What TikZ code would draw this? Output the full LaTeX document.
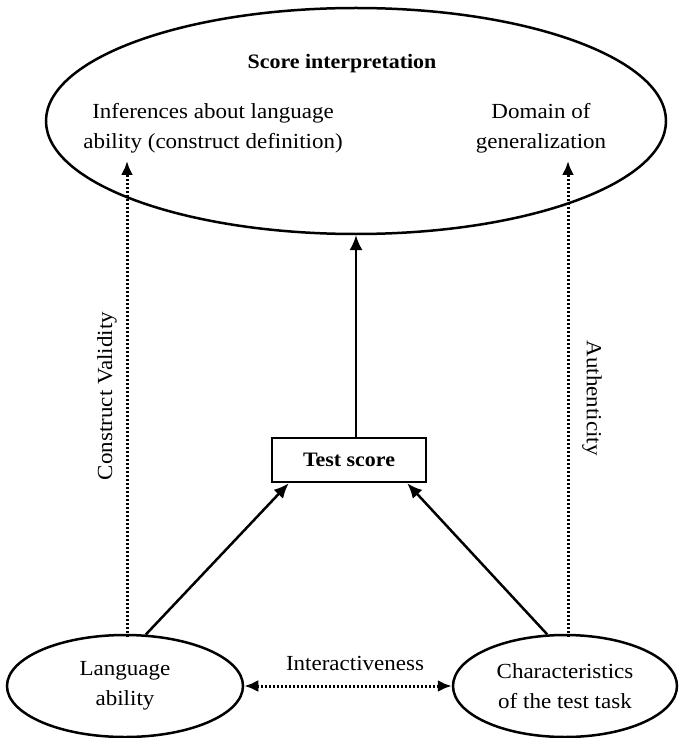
\documentclass[tikz,border=0pt]{standalone}
\usepackage{fontspec}
\setmainfont{Liberation Serif}[FakeStretch=1.07]
\usetikzlibrary{shapes.geometric,arrows.meta}
\begin{document}
\begin{tikzpicture}[x=1pt,y=-1pt,
  every node/.style={font=\fontsize{21.5}{30}\selectfont},
  heading/.style={font=\fontsize{20.5}{30}\bfseries\selectfont},
  oval/.style={draw,line width=2.5pt,ellipse,inner sep=0pt},
  solidarrow/.style={line width=2.5pt,-{Latex[length=15pt,width=13pt]}},
  dotarrow/.style={line width=3pt,dash pattern=on 2pt off 2pt,-{Latex[length=14pt,width=12pt]}},
  dotboth/.style={line width=3pt,dash pattern=on 2pt off 2pt,{Latex[length=14pt,width=12pt]}-{Latex[length=14pt,width=12pt]}},
  twoline/.style={align=center}]
  \useasboundingbox (0,0) rectangle (679,738);

  % ellipses
  \node[oval,minimum width=620pt,minimum height=226pt] (interp) at (356,121) {};
  \node[oval,minimum width=236pt,minimum height=102pt,twoline] (ability) at (125,686) {Language\\ability};
  \node[oval,minimum width=224pt,minimum height=102pt,twoline] (task) at (565,686) {Characteristics\\of the test task};

  % texts inside the score ellipse
  \node[heading] (title) at (342,64) {Score interpretation};
  \node[twoline] (infer) at (213,128) {Inferences about language\\ability (construct definition)};
  \node[twoline] (domain) at (541,128) {Domain of\\generalization};

  % test score box
  \node[draw,line width=2.5pt,minimum width=154pt,minimum height=44pt,heading] (score) at (349,460) {Test score};

  % ends of the vertical dotted connectors
  \coordinate (lt) at (127,161);
  \coordinate (rt) at (568,161);
  \coordinate (lb) at (127,637);
  \coordinate (rb) at (568,637);
  \coordinate (up) at (356,235);

  \draw[solidarrow] (score.north -| up) -- (up);
  \draw[solidarrow] (ability.68) -- ([xshift=18pt]score.south west);
  \draw[solidarrow] (task.109) -- ([xshift=-20pt]score.south east);
  \draw[dotarrow] (lb) -- (lt);
  \draw[dotarrow] (rb) -- (rt);
  \draw[dotboth] (ability.east) -- (task.west);

  % connector labels
  \node[rotate=90] (cv) at (107,396) {Construct Validity};
  \node[rotate=-90] (auth) at (592,398) {Authenticity};
  \node (inter) at (355,663) {Interactiveness};
\end{tikzpicture}
\end{document}
